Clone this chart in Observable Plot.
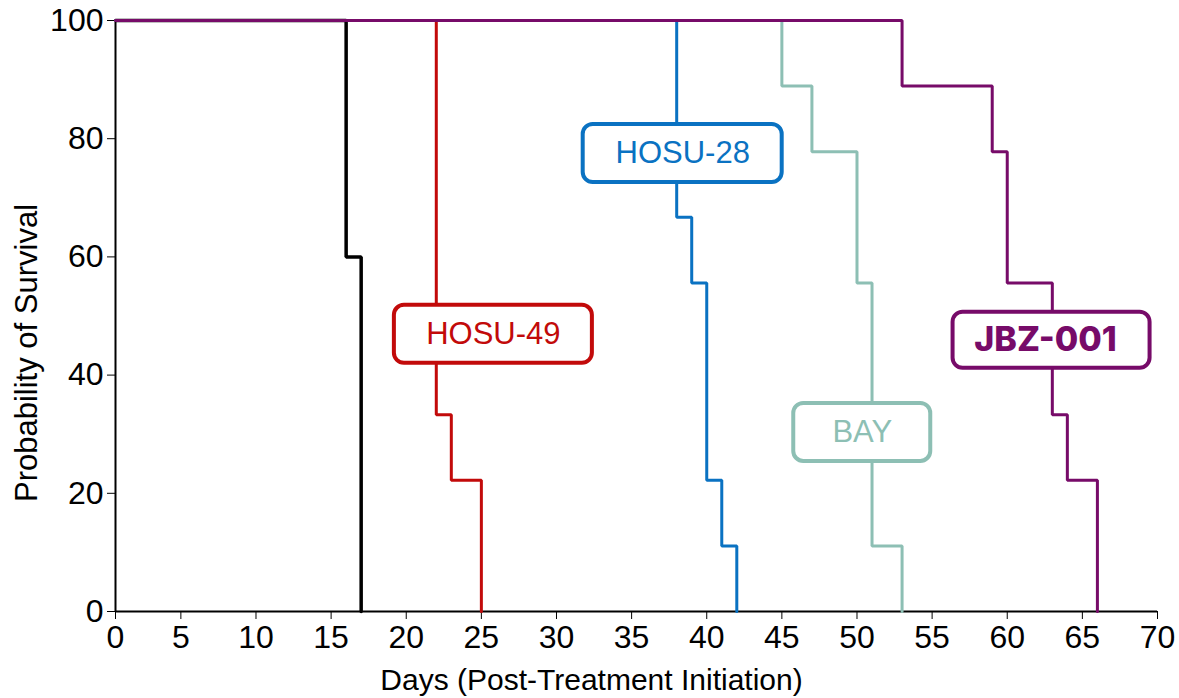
<!DOCTYPE html>
<html><head><meta charset="utf-8">
<script src="https://cdn.jsdelivr.net/npm/d3@7"></script>
<script src="https://cdn.jsdelivr.net/npm/@observablehq/plot@0.6"></script>
<style>
body{margin:0;background:#fff}
#chart svg{display:block;overflow:visible}
</style></head><body><div id="chart"></div>
<script>
// Kaplan-Meier step data (day, % surviving)
const seriesNames = ["Control", "HOSU-49", "HOSU-28", "BAY", "JBZ-001"];
const controlDays = [0, 16, 17];
const controlSurv = [100, 60, 0];
const hosu49Days = [0, 22, 23, 25];
const hosu49Surv = [100, 33.3, 22.2, 0];
const hosu28Days = [0, 38, 39, 40, 41, 42];
const hosu28Surv = [100, 66.7, 55.6, 22.2, 11.1, 0];
const bayDays = [0, 45, 47, 50, 51, 53];
const baySurv = [100, 88.9, 77.8, 55.6, 11.1, 0];
const jbzDays = [0, 53, 59, 60, 63, 64, 66];
const jbzSurv = [100, 88.9, 77.8, 55.6, 33.3, 22.2, 0];
const xTicks = [0, 5, 10, 15, 20, 25, 30, 35, 40, 45, 50, 55, 60, 65, 70];
const yTicks = [0, 20, 40, 60, 80, 100];
const xLabel = "Days (Post-Treatment Initiation)";
const yLabel = "Probability of Survival";
// label anchor positions (in data units)
const labelNames = ["HOSU-49", "HOSU-28", "BAY", "JBZ-001"];
const labelDay = [25.8, 38.4, 50.35, 62.95];
const labelSurv = [46.9, 77.5, 30.3, 45.9];

// axis origin sits slightly right of day 0 (as in the original figure)
const xMin = 0.65;
const colors = {"Control": "#000000", "HOSU-49": "#c20a0a", "HOSU-28": "#0a72c2", "BAY": "#8dbfb4", "JBZ-001": "#770b69"};
const widths = {"Control": 3.5, "HOSU-49": 3, "HOSU-28": 3, "BAY": 3, "JBZ-001": 3};
const boxW = {"HOSU-49": 198, "HOSU-28": 199, "BAY": 137, "JBZ-001": 197};
const boxH = {"HOSU-49": 58, "HOSU-28": 58, "BAY": 58, "JBZ-001": 56};
const FONT = "'Liberation Sans', Arial, sans-serif";

const series = [
  [controlDays, controlSurv], [hosu49Days, hosu49Surv], [hosu28Days, hosu28Surv],
  [bayDays, baySurv], [jbzDays, jbzSurv]
].map(([d, s], i) => d.map((day, j) => ({name: seriesNames[i], day: Math.max(day, xMin), surv: s[j]})));

const labels = labelNames.map((name, i) => ({name, day: labelDay[i], surv: labelSurv[i]}));
const plainLabels = labels.filter(d => d.name !== "JBZ-001");
const boldLabels = labels.filter(d => d.name === "JBZ-001");

const lineMarks = series.map(data => Plot.line(data, {
  x: "day", y: "surv", curve: "step-after",
  stroke: colors[data[0].name], strokeWidth: widths[data[0].name], strokeLinejoin: "miter"
}));

const plot = Plot.plot({
  width: 1179, height: 698,
  marginLeft: 115, marginRight: 22, marginTop: 20, marginBottom: 87,
  style: {fontFamily: FONT, fontSize: "32px", color: "#000", background: "#fff"},
  x: {type: "linear", domain: [xMin, 70]},
  y: {type: "linear", domain: [0, 100]},
  marks: [
    Plot.axisX({ticks: xTicks.map(t => Math.max(t, xMin)), tickSize: 8, tickPadding: 6,
      tickFormat: d => String(Math.round(d) === 1 ? 0 : Math.round(d)), label: null}),
    Plot.axisY({ticks: yTicks, tickSize: 8, tickPadding: 4, tickFormat: d => String(d), label: null}),
    Plot.text([xLabel], {frameAnchor: "bottom", textAnchor: "middle", dx: -45, dy: 69, lineAnchor: "middle", fontSize: 30, fill: "#000", fontFamily: FONT}),
    Plot.text([yLabel], {frameAnchor: "left", textAnchor: "middle", rotate: -90, dx: -88, dy: 37, lineAnchor: "middle", fontSize: 31, fill: "#000", fontFamily: FONT}),
    Plot.ruleY([0], {stroke: "#000", strokeWidth: 2}),
    Plot.ruleX([xMin], {stroke: "#000", strokeWidth: 2}),
    ...lineMarks,
    Plot.text(plainLabels, {
      x: "day", y: "surv", text: "name", textAnchor: "middle", lineAnchor: "middle",
      fill: d => colors[d.name], fontSize: 31, fontFamily: FONT
    }),
    Plot.text(boldLabels, {
      x: "day", y: "surv", text: "name", textAnchor: "middle", lineAnchor: "middle", dx: -6,
      fill: d => colors[d.name], fontSize: 34, fontWeight: 800, fontFamily: "Inter, Lato, sans-serif"
    })
  ]
});
document.getElementById("chart").appendChild(plot);

// draw rounded boxes behind the labels
const sx = plot.scale("x"), sy = plot.scale("y");
const textGroups = [...plot.querySelectorAll('g[aria-label="text"]')];
const firstLabelGroup = textGroups[textGroups.length - 2];
if (firstLabelGroup) {
  const ns = "http://www.w3.org/2000/svg";
  const g = document.createElementNS(ns, "g");
  labels.forEach((lab) => {
    const name = lab.name;
    const cx = sx.apply(lab.day), cy = sy.apply(lab.surv);
    const w = boxW[name], h = boxH[name];
    const r = document.createElementNS(ns, "rect");
    r.setAttribute("x", cx - w / 2); r.setAttribute("y", cy - h / 2);
    r.setAttribute("width", w); r.setAttribute("height", h);
    r.setAttribute("rx", 10); r.setAttribute("ry", 10);
    r.setAttribute("fill", "#fff"); r.setAttribute("stroke", colors[name]);
    r.setAttribute("stroke-width", 4);
    g.appendChild(r);
  });
  firstLabelGroup.parentNode.insertBefore(g, firstLabelGroup);
}
</script></body></html>
